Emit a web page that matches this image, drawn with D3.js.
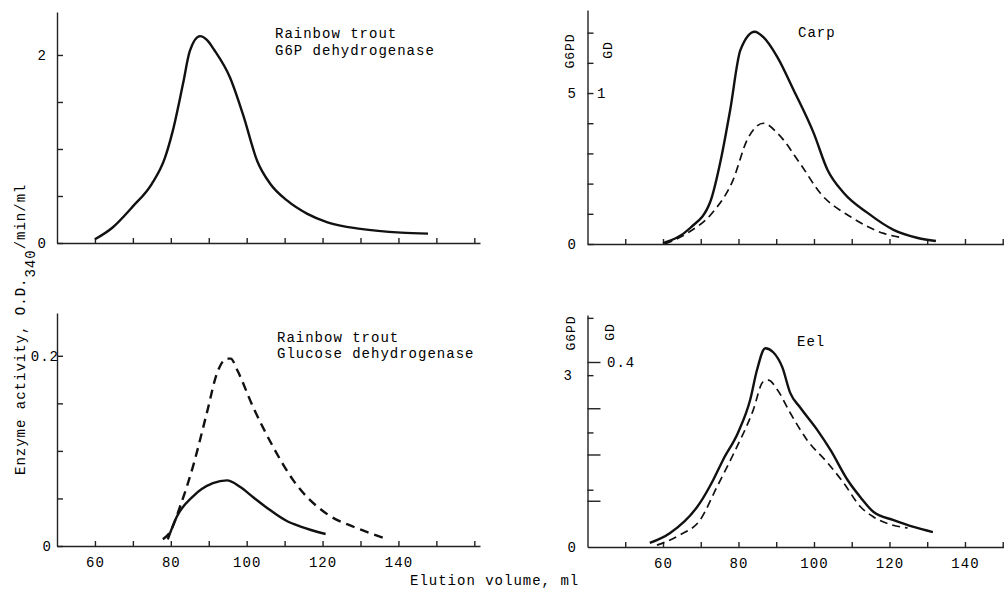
<!DOCTYPE html>
<html>
<head>
<meta charset="utf-8">
<script src="https://cdn.jsdelivr.net/npm/d3@7/dist/d3.min.js"></script>
<style>
body { margin: 0; background: #fff; }
text { font-family: "Liberation Mono", "DejaVu Sans Mono", monospace; font-size: 14px; fill: #000; letter-spacing: 1px; }
.axis path, .axis line { stroke: #222; stroke-width: 1.4; }
.axis text { font-family: "Liberation Mono", monospace; font-size: 14px; fill: #000; }
.solid { fill: none; stroke: #111; stroke-width: 2.4; }
.dash { fill: none; stroke: #111; stroke-width: 1.7; stroke-dasharray: 8,5; }
.dashbold { fill: none; stroke: #111; stroke-width: 2.4; stroke-dasharray: 9,6; }
</style>
</head>
<body>
<svg id="chart" width="1004" height="595"></svg>
<script>
// elution volume (ml) vs activity
var troutG6PD = [[60,0.04],[64.5,0.16],[70,0.39],[75,0.63],[78.4,0.9],[80.5,1.19],[83.2,1.69],[85,2.04],[87.7,2.2],[89.5,2.16],[91.5,2.05],[95.6,1.76],[99,1.37],[102.8,0.87],[106.2,0.63],[110.7,0.45],[116,0.31],[121.3,0.22],[130,0.15],[140.7,0.11],[147.8,0.1]];
var troutGDdashed = [[77.9,0.007],[79.7,0.014],[82.4,0.041],[85.8,0.083],[89.5,0.14],[92.2,0.182],[94.8,0.197],[95.8,0.197],[97.5,0.185],[101.7,0.146],[107,0.104],[112.3,0.069],[121.4,0.033],[128.3,0.02],[137.3,0.007]];
var troutGDsolid = [[79.2,0.007],[81.6,0.031],[85.8,0.052],[91.1,0.066],[94.8,0.069],[98.3,0.062],[101.8,0.051],[105.4,0.04],[110.7,0.026],[114.2,0.0205],[120.8,0.0126]];
var carpG6PD = [[60,0.03],[67.2,0.53],[72.5,1.39],[75.5,2.9],[77.8,4.44],[80.5,6.42],[84.3,7.03],[86.6,6.85],[90.3,6.19],[94.6,5.1],[99.9,3.68],[103.6,2.45],[107.9,1.69],[114.2,1.03],[121.2,0.46],[127.5,0.2],[132.3,0.1]];
var carpGD = [[60.5,0],[66.3,0.07],[73.2,0.21],[78.5,0.42],[82.3,0.69],[84.4,0.77],[86.6,0.8],[90.3,0.735],[96.4,0.53],[101.7,0.336],[109.7,0.18],[118.5,0.07],[123.8,0.04]];
var eelG6PD = [[56.5,0.07],[61.8,0.24],[69.8,0.77],[73.3,1.17],[75.9,1.52],[79.9,2.0],[83.1,2.57],[84.9,3.09],[87.1,3.47],[89.2,3.4],[91.6,3.14],[93.7,2.69],[96.4,2.43],[100.9,2.04],[104.4,1.69],[108.9,1.17],[112.3,0.87],[115.8,0.61],[121.1,0.47],[126.4,0.35],[131.5,0.26]];
var eelGD = [[58.4,0.004],[64.5,0.026],[69.8,0.058],[74.3,0.13],[78.6,0.2],[83.9,0.296],[86.5,0.357],[87.9,0.361],[90.3,0.34],[93.7,0.29],[98.2,0.231],[103.6,0.182],[107.9,0.138],[112.3,0.087],[115.8,0.065],[124.8,0.041]];

var xTicksLeft = [60,70,80,90,100,110,120,130,140,150,160];
var xTicksRight = [50,60,70,80,90,100,110,120,130,140,150];
var xTickLabels = [60,80,100,120,140];
var yTicksTL = [0,0.5,1,1.5,2];
var yTicksTR = [0,1,2,3,4,5,6,7];
var yTicksBL = [0,0.05,0.1,0.15,0.2];
var yTicksBRg6pd = [1,2,3,4];
var yTicksBRgd = [0.1,0.2,0.3,0.4];

var svg = d3.select('#chart');

// scales
var xLeft = d3.scaleLinear().domain([50,161.5]).range([57,480]);
var xRight = d3.scaleLinear().domain([40,150.5]).range([587.5,1004.6]);
var yTL = d3.scaleLinear().domain([0,2.457]).range([243,12]);
var yTR = d3.scaleLinear().domain([0,7.75]).range([244,10]);
var yTRgd = d3.scaleLinear().domain([0,1.55]).range([244,10]);
var yBL = d3.scaleLinear().domain([0,0.245]).range([546,313]);
var yBR = d3.scaleLinear().domain([0,4.05]).range([547,315]);
var yBRgd = d3.scaleLinear().domain([0,0.5016]).range([547,315]);

function xAxis(x, y0, ticks, labelled) {
    svg.append('g').attr('class','axis')
        .attr('transform','translate(0,'+y0+')')
        .call(d3.axisBottom(x).tickValues(ticks).tickSizeInner(-5).tickSizeOuter(0).tickPadding(11)
            .tickFormat(function(d){ return labelled && xTickLabels.indexOf(d) >= 0 ? d : ''; }));
}

function yAxis(y, x0, ticks, len, hideLine) {
    var g = svg.append('g').attr('class','axis')
        .attr('transform','translate('+x0+',0)')
        .call(d3.axisLeft(y).tickValues(ticks).tickSizeInner(-len).tickSizeOuter(0).tickFormat(''));
    if (hideLine) g.select('.domain').remove();
}

function label(txt, x, y, anchor) {
    svg.append('text').attr('x',x).attr('y',y).attr('text-anchor',anchor || 'start').text(txt);
}

function vlabel(txt, x, y) {
    svg.append('text').attr('transform','translate('+x+','+y+') rotate(-90)')
        .attr('text-anchor','middle').style('font-size','13px').text(txt);
}

function curve(data, x, y, cls) {
    var line = d3.line()
        .x(function(d){ return x(d[0]); })
        .y(function(d){ return y(d[1]); })
        .curve(d3.curveMonotoneX);
    svg.append('path').datum(data).attr('class',cls).attr('d',line);
}

// top left: rainbow trout G6PD
yAxis(yTL, 57, yTicksTL, 6);
xAxis(xLeft, 243, xTicksLeft, false);
label('0', 47, yTL(0)+5, 'end');
label('2', 47, yTL(2)+5, 'end');
curve(troutG6PD, xLeft, yTL, 'solid');
label('Rainbow trout', 275, 38);
label('G6P dehydrogenase', 275, 55);

// bottom left: rainbow trout glucose dehydrogenase
yAxis(yBL, 57, yTicksBL, 6);
xAxis(xLeft, 546, xTicksLeft, true);
label('0', 52, yBL(0)+5, 'end');
label('0.2', 59, yBL(0.2)+5, 'end');
curve(troutGDdashed, xLeft, yBL, 'dashbold');
curve(troutGDsolid, xLeft, yBL, 'solid');
label('Rainbow trout', 277, 342);
label('Glucose dehydrogenase', 277, 358);

// top right: carp
yAxis(yTR, 587.5, yTicksTR, 6);
xAxis(xRight, 244, xTicksRight, false);
label('0', 577, yTR(0)+5, 'end');
label('5', 577, yTR(5)+5, 'end');
label('1', 597, yTRgd(1)+5);
vlabel('G6PD', 574, 51);
vlabel('GD', 612, 50);
curve(carpGD, xRight, yTRgd, 'dash');
curve(carpG6PD, xRight, yTR, 'solid');
label('Carp', 798, 37);

// bottom right: eel
yAxis(yBR, 587.5, yTicksBRg6pd, 6);
yAxis(yBRgd, 587.5, yTicksBRgd, 13, true);
xAxis(xRight, 547, xTicksRight, true);
label('0', 577, yBR(0)+5, 'end');
label('3', 573, yBR(3)+5, 'end');
label('0.4', 607, yBRgd(0.4)+5);
vlabel('G6PD', 575, 333);
vlabel('GD', 614, 332);
curve(eelGD, xRight, yBRgd, 'dash');
curve(eelG6PD, xRight, yBR, 'solid');
label('Eel', 797, 346);

// shared axis titles
svg.append('text').attr('x',410).attr('y',585).text('Elution volume, ml');
var yt = svg.append('text').attr('transform','translate(25,475) rotate(-90)');
yt.append('tspan').text('Enzyme activity, O.D.');
yt.append('tspan').attr('dy',10).text('340');
yt.append('tspan').attr('dy',-10).text('/min/ml');
</script>
</body>
</html>
